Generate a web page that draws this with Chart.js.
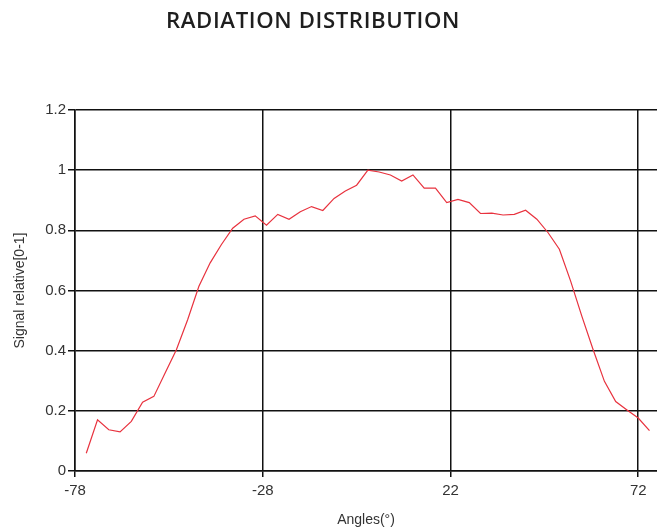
<!DOCTYPE html>
<html><head><meta charset="utf-8">
<style>html,body{margin:0;padding:0;background:#fff;overflow:hidden}#wrap{position:relative;width:657px;height:529px}</style>
<script src="https://cdn.jsdelivr.net/npm/chart.js@4/dist/chart.umd.min.js"></script>
</head><body><div id="wrap"><canvas id="c" width="657" height="529"></canvas></div>
<script>
const chartTitle = 'RADIATION DISTRIBUTION';
const xTitle = 'Angles(°)';
const yTitle = 'Signal relative[0-1]';
const angles = [-75,-72,-69,-66,-63,-60,-57,-54,-51,-48,-45,-42,-39,-36,-33,-30,-27,-24,-21,-18,-15,-12,-9,-6,-3,0,3,6,9,12,15,18,21,24,27,30,33,36,39,42,45,48,51,54,57,60,63,66,69,72,75];
const signal = [0.059,0.17,0.137,0.13,0.165,0.229,0.248,0.326,0.403,0.503,0.614,0.692,0.753,0.807,0.837,0.848,0.817,0.853,0.837,0.862,0.879,0.866,0.906,0.931,0.95,1.0,0.994,0.984,0.964,0.984,0.94,0.94,0.892,0.903,0.892,0.856,0.857,0.851,0.853,0.867,0.837,0.792,0.737,0.631,0.514,0.403,0.298,0.231,0.203,0.176,0.134];
const xTicks = [-78,-28,22,72];
const yTicks = [0,0.2,0.4,0.6,0.8,1,1.2];

const titlePlugin = {
  id: 'mainTitle',
  afterDraw(chart) {
    const ctx = chart.ctx;
    ctx.save();
    ctx.font = '600 21px "Open Sans"';
    if ('letterSpacing' in ctx) ctx.letterSpacing = '0.6px';
    ctx.fillStyle = '#1e1e1e';
    ctx.textAlign = 'center';
    ctx.textBaseline = 'middle';
    const w = ctx.measureText(chartTitle).width;
    const target = 294;
    ctx.translate(313, 22);
    ctx.scale(target / w, 1);
    ctx.fillText(chartTitle, 0, 0);
    ctx.restore();
  }
};

new Chart(document.getElementById('c'), {
  type: 'line',
  data: {
    datasets: [{
      data: angles.map((a, i) => ({x: a, y: signal[i]})),
      borderColor: 'rgb(232,50,62)',
      borderWidth: 1.2,
      pointRadius: 0,
      tension: 0,
      fill: false
    }]
  },
  options: {
    responsive: false,
    devicePixelRatio: 1,
    animation: false,
    layout: {padding: {top: 110, right: 0, bottom: 0, left: 0}},
    plugins: {legend: {display: false}, title: {display: false}, tooltip: {enabled: false}},
    scales: {
      x: {
        type: 'linear', min: -78, max: 77,
        afterBuildTicks: s => { s.ticks = xTicks.map(v => ({value: v})); },
        afterFit: s => { s.height = 58; },
        grid: {color: '#111', lineWidth: 1.5, tickLength: 6},
        border: {color: '#111', width: 1.5},
        ticks: {color: '#333', font: {family: 'Liberation Sans', size: 15}, padding: 5, maxRotation: 0, autoSkip: false},
        title: {display: true, text: xTitle, color: '#333', font: {family: 'Liberation Sans', size: 14}, padding: {top: 0, bottom: 0}}
      },
      y: {
        min: 0, max: 1.2,
        afterBuildTicks: s => { s.ticks = yTicks.map(v => ({value: v})); },
        afterFit: s => { s.width = 75; },
        grid: {color: '#111', lineWidth: 1.5, tickLength: 7},
        border: {color: '#111', width: 1.5},
        ticks: {color: '#333', font: {family: 'Liberation Sans', size: 15}, padding: 2, callback: v => String(Math.round(v * 10) / 10)},
        title: {display: true, text: yTitle, color: '#333', font: {family: 'Liberation Sans', size: 14}, padding: {top: 12, bottom: 0}}
      }
    }
  },
  plugins: [titlePlugin]
});
</script></body></html>
